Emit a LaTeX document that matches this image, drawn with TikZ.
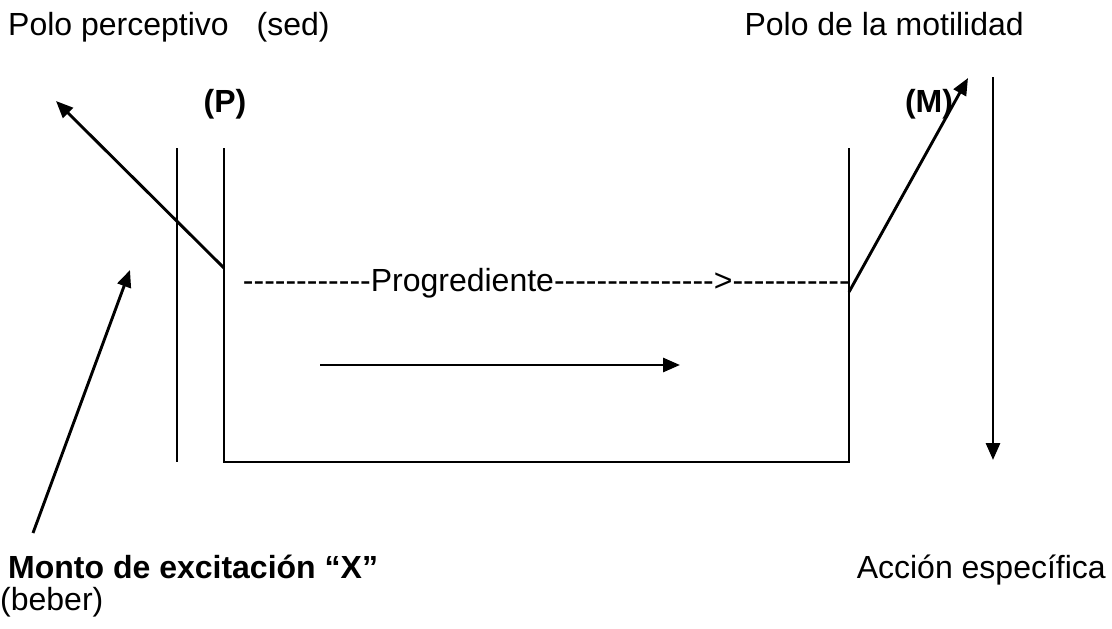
\documentclass[tikz,border=0pt]{standalone}
\usepackage{fontspec}
\setmainfont{Liberation Sans}
\newfontfamily\nolig{Liberation Sans}
\usetikzlibrary{arrows.meta}
\begin{document}
\begin{tikzpicture}[x=1pt,y=-1pt,
  txt/.style={inner sep=0pt, font=\fontsize{32}{38}\selectfont},
  btxt/.style={inner sep=0pt, font=\fontsize{32}{38}\selectfont\bfseries},
  wall/.style={line width=2.3pt},
  arr/.style={line width=2.9pt, -{Triangle[length=17pt,width=14pt]}}]
\useasboundingbox (0,0) rectangle (1112,629);
% texts
\node[txt, anchor=base west] (pp) at (8,35) {Polo perceptivo\hspace{28pt}(sed)};
\node[txt, anchor=base east] (pm) at (1024,35) {Polo de la motilidad};
\node[btxt, anchor=base] (P) at (225,112) {(P)};
\node[btxt, anchor=base] (M) at (929,112) {(M)};
\node[txt, anchor=base east] (prog) at (850,291) {\nolig ------------Progrediente--------------->-----------};
\node[btxt, anchor=base west] (monto) at (8,578) {Monto de excitación “X”};
\node[txt, anchor=base west] (beber) at (0,610) {(beber)};
\node[txt, anchor=base east] (accion) at (1106,578) {Acción específica};
% walls
\coordinate (L1t) at (177,148);
\coordinate (L1b) at (177,462);
\coordinate (L2t) at (224,148);
\coordinate (L2b) at (224,462);
\coordinate (Rt) at (849,148);
\coordinate (Rb) at (849,462);
\draw[wall] (L1t) -- (L1b);
\draw[wall] (L2t) -- (L2b) -- (Rb) -- (Rt);
% arrows
\coordinate (Ps) at (224,268);
\coordinate (Pe) at (56,101);
\coordinate (Ms) at (849,292);
\coordinate (Me) at (968,78);
\coordinate (Xs) at (33,533);
\coordinate (Xe) at (130,270);
\coordinate (Hs) at (320,365);
\coordinate (He) at (680,365);
\coordinate (Ds) at (993,77);
\coordinate (De) at (993,460);
\draw[arr] (Ps) -- (Pe);
\draw[arr] (Ms) -- (Me);
\draw[arr] (Xs) -- (Xe);
\draw[arr] (Hs) -- (He);
\draw[arr] (Ds) -- (De);
\end{tikzpicture}
\end{document}
